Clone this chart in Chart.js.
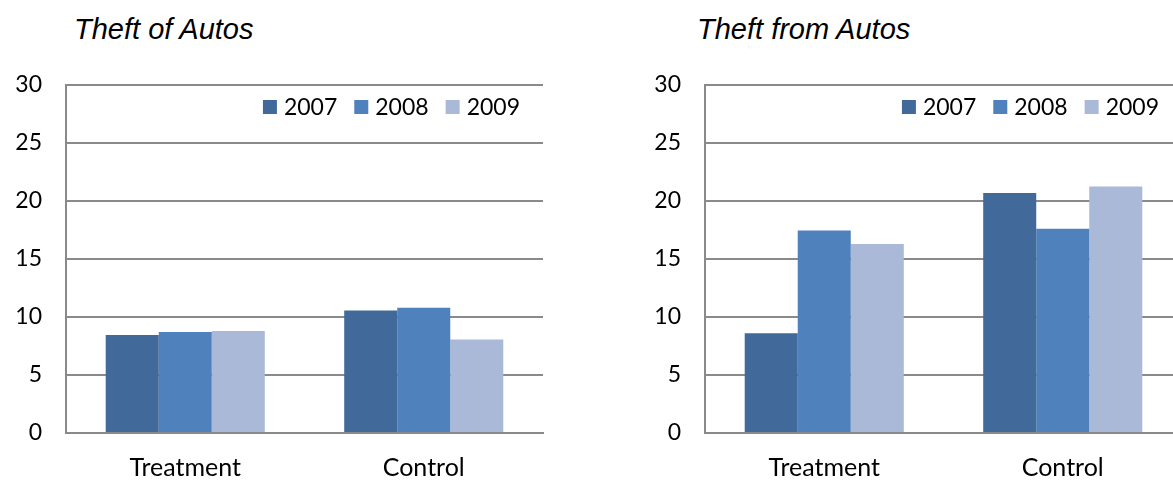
<!DOCTYPE html>
<html>
<head>
<meta charset="utf-8">
<script src="https://cdn.jsdelivr.net/npm/chart.js@4.4.1/dist/chart.umd.min.js"></script>
<style>
  body { margin: 0; background: #fff; width: 1173px; height: 481px; overflow: hidden; position: relative; }
  .title { position: absolute; top: 15px; font: italic 29px "Liberation Sans", Arial, sans-serif; line-height: 29px; color: #000; white-space: nowrap; }
  canvas { position: absolute; top: 0; }
</style>
</head>
<body>
<div class="title" style="left:74px">Theft of Autos</div>
<div class="title" style="left:697px">Theft from Autos</div>
<canvas id="chartOf" width="600" height="481" style="left:0px"></canvas>
<canvas id="chartFrom" width="600" height="481" style="left:638px"></canvas>
<script>
var categories = ['Treatment', 'Control'];
var years = ['2007', '2008', '2009'];
var yearColors = ['#416a9b', '#4f81bd', '#aab9d7'];

// Theft of Autos
var theftOf2007 = [8.45, 10.55];
var theftOf2008 = [8.7, 10.8];
var theftOf2009 = [8.8, 8.05];

// Theft from Autos
var theftFrom2007 = [8.6, 20.7];
var theftFrom2008 = [17.45, 17.6];
var theftFrom2009 = [16.3, 21.25];

var yMin = 0, yMax = 30, yStep = 5;

var gridColor = '#8a8a8a';

// legend drawn inside the plot, top right, like the excel one
var plotLegend = {
  id: 'plotLegend',
  afterDraw: function (chart) {
    var ctx = chart.ctx;
    var area = chart.chartArea;
    var sets = chart.data.datasets;
    ctx.save();
    ctx.font = '23px Lato';
    ctx.textBaseline = 'middle';
    var x = area.right - 23;
    var y = area.top + 22;
    for (var i = sets.length - 1; i >= 0; i--) {
      var w = ctx.measureText(sets[i].label).width;
      ctx.fillStyle = '#000';
      ctx.fillText(sets[i].label, x - w, y + 1);
      ctx.fillStyle = sets[i].backgroundColor;
      ctx.fillRect(x - w - 7 - 14, y - 7, 14, 14);
      x = x - w - 7 - 14 - 17;
    }
    ctx.restore();
  }
};

function makeChart(id, s1, s2, s3, yWidth, padRight) {
  var ctx = document.getElementById(id).getContext('2d');
  var values = [s1, s2, s3];
  var sets = [];
  for (var i = 0; i < years.length; i++) {
    sets.push({
      label: years[i],
      data: values[i],
      backgroundColor: yearColors[i],
      borderWidth: 0,
      categoryPercentage: 0.667,
      barPercentage: 1.0
    });
  }
  return new Chart(ctx, {
    type: 'bar',
    data: { labels: categories, datasets: sets },
    options: {
      responsive: false,
      animation: false,
      layout: { padding: { top: 85, right: padRight, bottom: 0, left: 0 } },
      plugins: { legend: { display: false }, tooltip: { enabled: false } },
      scales: {
        x: {
          grid: { display: false, drawTicks: false },
          border: { display: true, color: gridColor, width: 2 },
          ticks: { color: '#000', font: { family: 'Lato', size: 25 }, padding: 20 },
          afterFit: function (scale) { scale.height = 48; }
        },
        y: {
          min: yMin,
          max: yMax,
          grid: { color: gridColor, lineWidth: 2, drawTicks: false },
          border: { display: true, color: gridColor, width: 2 },
          ticks: { stepSize: yStep, color: '#000', font: { family: 'Lato', size: 23 }, padding: 24 },
          afterFit: function (scale) { scale.width = yWidth; }
        }
      }
    },
    plugins: [plotLegend]
  });
}

function init() {
  makeChart('chartOf', theftOf2007, theftOf2008, theftOf2009, 66, 57);
  makeChart('chartFrom', theftFrom2007, theftFrom2008, theftFrom2009, 67, 56);
}

init();
</script>
</body>
</html>
